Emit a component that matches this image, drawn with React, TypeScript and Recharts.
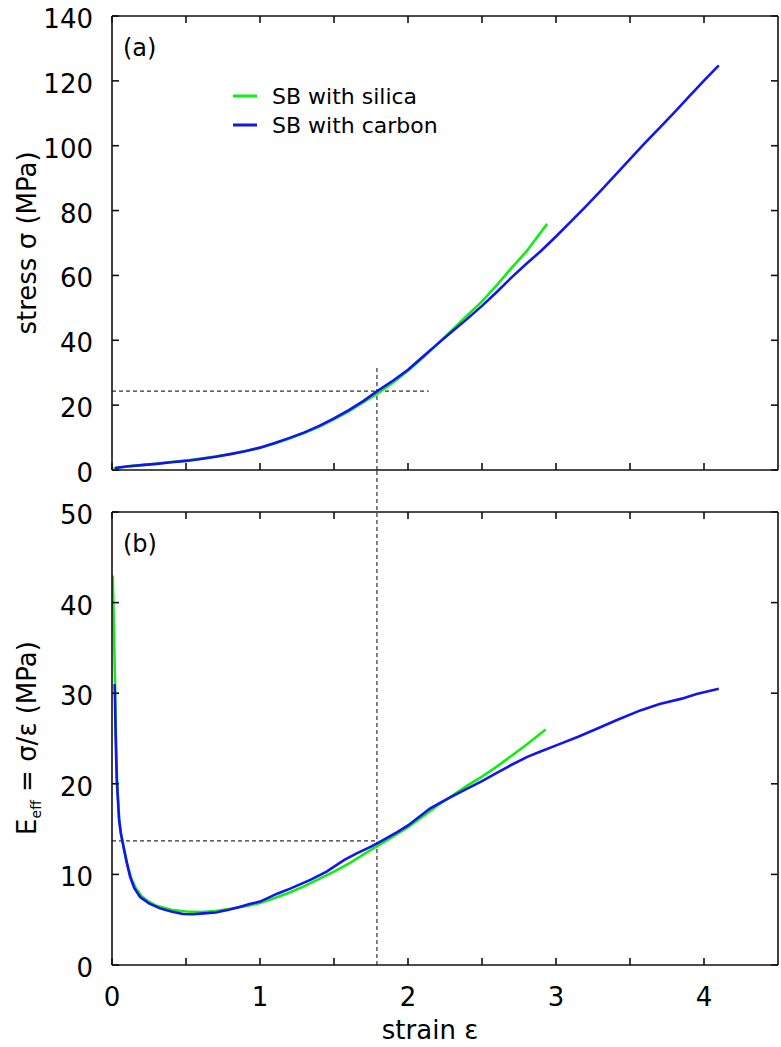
import React from 'react';
import { LineChart, Line, XAxis, YAxis, ReferenceLine, Legend } from 'recharts';

const FONT = '"DejaVu Sans", Verdana, sans-serif';
const GREEN = '#11ee11';
const BLUE = '#1414ee';

// ---- panel (a): stress vs strain ----
const strainSilicaA = [0.01, 0.1, 0.2, 0.3, 0.4, 0.5, 0.6, 0.7, 0.8, 0.9, 1.0, 1.1, 1.2, 1.3, 1.4, 1.5, 1.6, 1.7, 1.8, 1.9, 2.0, 2.1, 2.2, 2.3, 2.4, 2.5, 2.6, 2.7, 2.8, 2.94];
const stressSilica = [0.45, 1.15, 1.5, 1.95, 2.45, 2.95, 3.5, 4.15, 4.95, 5.85, 6.85, 8.2, 9.7, 11.4, 13.3, 15.6, 18.1, 20.9, 23.8, 27.0, 30.6, 34.6, 38.9, 43.3, 47.7, 52.0, 57.0, 62.3, 67.4, 75.9];

const strainCarbonA = [0.02, 0.1, 0.2, 0.3, 0.4, 0.5, 0.6, 0.7, 0.8, 0.9, 1.0, 1.1, 1.2, 1.3, 1.4, 1.5, 1.6, 1.7, 1.8, 1.9, 2.0, 2.1, 2.2, 2.3, 2.4, 2.5, 2.6, 2.7, 2.8, 2.9, 3.0, 3.1, 3.2, 3.3, 3.4, 3.5, 3.6, 3.7, 3.8, 3.9, 4.0, 4.1];
const stressCarbon = [0.6, 1.1, 1.5, 1.9, 2.4, 2.8, 3.4, 4.1, 4.9, 5.8, 6.9, 8.3, 9.9, 11.6, 13.6, 15.9, 18.5, 21.3, 24.6, 27.6, 30.9, 34.9, 38.9, 42.8, 46.6, 50.6, 54.9, 59.4, 63.6, 67.6, 72.0, 76.6, 81.2, 86.0, 90.9, 95.9, 100.8, 105.5, 110.3, 115.2, 120.1, 124.8];

// ---- panel (b): effective modulus vs strain ----
const strainSilicaB = [0.005, 0.013, 0.02, 0.027, 0.034, 0.048, 0.06, 0.08, 0.1, 0.13, 0.16, 0.2, 0.25, 0.3, 0.4, 0.5, 0.6, 0.7, 0.8, 0.9, 1.0, 1.1, 1.2, 1.3, 1.4, 1.5, 1.6, 1.7, 1.8, 1.9, 2.0, 2.1, 2.2, 2.3, 2.4, 2.5, 2.6, 2.7, 2.8, 2.93];
const effSilica = [43, 37, 31.5, 25, 20.5, 16.2, 14.6, 12.9, 11.3, 9.6, 8.5, 7.6, 6.95, 6.55, 6.1, 5.9, 5.85, 5.95, 6.2, 6.5, 6.85, 7.4, 8.0, 8.7, 9.5, 10.3, 11.2, 12.2, 13.2, 14.2, 15.2, 16.4, 17.6, 18.7, 19.8, 20.8, 21.9, 23.1, 24.3, 26.0];

const strainCarbonB = [0.018, 0.025, 0.032, 0.048, 0.06, 0.077, 0.1, 0.122, 0.15, 0.19, 0.25, 0.325, 0.4, 0.48, 0.55, 0.62, 0.7, 0.78, 0.85, 0.93, 1.0, 1.12, 1.2, 1.34, 1.45, 1.57, 1.65, 1.75, 1.81, 1.93, 2.0, 2.15, 2.25, 2.38, 2.5, 2.6, 2.7, 2.81, 2.9, 3.01, 3.15, 3.28, 3.42, 3.57, 3.7, 3.85, 3.95, 4.1];
const effCarbon = [31, 25, 20.5, 16, 14.5, 13.1, 11.3, 9.75, 8.5, 7.5, 6.8, 6.25, 5.9, 5.63, 5.6, 5.7, 5.8, 6.07, 6.35, 6.73, 7.0, 7.9, 8.4, 9.4, 10.3, 11.6, 12.3, 13.06, 13.6, 14.7, 15.4, 17.3, 18.2, 19.3, 20.3, 21.2, 22.1, 23.0, 23.6, 24.3, 25.2, 26.1, 27.1, 28.1, 28.8, 29.4, 29.9, 30.5];

// ---- axes / annotations ----
const strainDomain = [0, 4.5];
const strainTicks = [0, 0.5, 1, 1.5, 2, 2.5, 3, 3.5, 4];
const stressDomain = [0, 140];
const stressTicks = [0, 20, 40, 60, 80, 100, 120, 140];
const effDomain = [0, 50];
const effTicks = [0, 10, 20, 30, 40, 50];

const crossStrain = 1.79;
const crossStress = 24.3;
const crossStressLineEnd = 2.14;
const crossStressVertTop = 32.4;
const crossEff = 13.7;
const crossEffVertTop = 54.64; // reaches up through the gap to panel (a)

const seriesNames = ['SB with silica', 'SB with carbon'];

const rows = (xs: number[], ys: number[]) => xs.map((x, i) => ({ x, y: ys[i] }));

const silicaA = rows(strainSilicaA, stressSilica);
const carbonA = rows(strainCarbonA, stressCarbon);
const silicaB = rows(strainSilicaB, effSilica);
const carbonB = rows(strainCarbonB, effCarbon);

const AXIS = { stroke: '#111', strokeWidth: 1.6 };
const TICKSIZE = -7;

const NoTick = () => <g />;

const LeftTick = (props: any) => {
  const { x, y, payload } = props;
  return (
    <text x={x - 26} y={y + 12} textAnchor="end" fontSize={26} fontFamily={FONT} fill="#000">
      {payload.value}
    </text>
  );
};

const BottomTick = (props: any) => {
  const { x, y, payload } = props;
  if (!Number.isInteger(payload.value)) return <g />;
  return (
    <text x={x} y={y + 48} textAnchor="middle" fontSize={26} fontFamily={FONT} fill="#000">
      {payload.value}
    </text>
  );
};

const LegendBox = (props: any) => {
  const payload = [...(props.payload || [])].sort(
    (a: any, b: any) => seriesNames.indexOf(a.value) - seriesNames.indexOf(b.value)
  );
  return (
    <svg width={260} height={64} style={{ overflow: 'visible' }}>
      {payload.map((p: any, i: number) => {
        const cy = 16 + i * 29;
        return (
          <g key={i}>
            <line x1={8} x2={32} y1={cy} y2={cy} stroke={p.color} strokeWidth={3} />
            <text x={47} y={cy + 8} fontSize={22} fontFamily={FONT} fill="#000">
              {p.value}
            </text>
          </g>
        );
      })}
    </svg>
  );
};

const dash = { stroke: '#333', strokeWidth: 1.2, strokeDasharray: '4 3' };

export default function App() {
  return (
    <div style={{ position: 'absolute', left: 0, top: 0, width: 781, height: 1047, background: '#fff' }}>
      <div style={{ position: 'absolute', left: 0, top: 0 }}>
        <LineChart width={781} height={500} margin={{ top: 15, right: 2, left: 0, bottom: 0 }}>
          <XAxis type="number" dataKey="x" domain={strainDomain} ticks={strainTicks} orientation="bottom" height={30}
            tickSize={TICKSIZE} tickMargin={0} tick={NoTick} axisLine={AXIS} tickLine={AXIS} allowDataOverflow />
          <XAxis xAxisId="top" type="number" dataKey="x" domain={strainDomain} ticks={strainTicks} orientation="top" height={1}
            tickSize={TICKSIZE} tickMargin={0} tick={NoTick} axisLine={AXIS} tickLine={AXIS} allowDataOverflow />
          <YAxis type="number" domain={stressDomain} ticks={stressTicks} orientation="left" width={112}
            tickSize={TICKSIZE} tickMargin={0} tick={LeftTick} axisLine={AXIS} tickLine={AXIS} allowDataOverflow />
          <YAxis yAxisId="right" type="number" domain={stressDomain} ticks={stressTicks} orientation="right" width={1}
            tickSize={TICKSIZE} tickMargin={0} tick={NoTick} axisLine={AXIS} tickLine={AXIS} allowDataOverflow />
          <ReferenceLine segment={[{ x: 0, y: crossStress }, { x: crossStressLineEnd, y: crossStress }]} {...dash} />
          <ReferenceLine segment={[{ x: crossStrain, y: 0 }, { x: crossStrain, y: crossStressVertTop }]} {...dash} />
          <Line data={silicaA} dataKey="y" name={seriesNames[0]} type="linear" stroke={GREEN} strokeWidth={2.6} dot={false} isAnimationActive={false} />
          <Line data={carbonA} dataKey="y" name={seriesNames[1]} type="linear" stroke={BLUE} strokeWidth={2.6} dot={false} isAnimationActive={false} />
          <Legend layout="vertical" align="center" verticalAlign="middle" content={<LegendBox />}
            wrapperStyle={{ position: 'absolute', left: 225, top: 80, width: 260, height: 64 }} />
        </LineChart>
      </div>
      <div style={{ position: 'absolute', left: 0, top: 470 }}>
        <LineChart width={781} height={577} margin={{ top: 41, right: 2, left: 0, bottom: 0 }}>
          <XAxis type="number" dataKey="x" domain={strainDomain} ticks={strainTicks} orientation="bottom" height={82}
            tickSize={TICKSIZE} tickMargin={0} tick={BottomTick} axisLine={AXIS} tickLine={AXIS} allowDataOverflow />
          <XAxis xAxisId="top" type="number" dataKey="x" domain={strainDomain} ticks={strainTicks} orientation="top" height={1}
            tickSize={TICKSIZE} tickMargin={0} tick={NoTick} axisLine={AXIS} tickLine={AXIS} allowDataOverflow />
          <YAxis type="number" domain={effDomain} ticks={effTicks} orientation="left" width={112}
            tickSize={TICKSIZE} tickMargin={0} tick={LeftTick} axisLine={AXIS} tickLine={AXIS} allowDataOverflow />
          <YAxis yAxisId="right" type="number" domain={effDomain} ticks={effTicks} orientation="right" width={1}
            tickSize={TICKSIZE} tickMargin={0} tick={NoTick} axisLine={AXIS} tickLine={AXIS} allowDataOverflow />
          <ReferenceLine segment={[{ x: 0, y: crossEff }, { x: crossStrain, y: crossEff }]} {...dash} />
          <ReferenceLine segment={[{ x: crossStrain, y: 0 }, { x: crossStrain, y: crossEffVertTop }]} ifOverflow="visible" {...dash} />
          <Line data={silicaB} dataKey="y" name={seriesNames[0]} type="linear" stroke={GREEN} strokeWidth={2.6} dot={false} isAnimationActive={false} />
          <Line data={carbonB} dataKey="y" name={seriesNames[1]} type="linear" stroke={BLUE} strokeWidth={2.6} dot={false} isAnimationActive={false} />
        </LineChart>
      </div>
      <svg width={781} height={1047} style={{ position: 'absolute', left: 0, top: 0, pointerEvents: 'none' }}>
        <text x={123} y={56} fontSize={24} fontFamily={FONT} fill="#000">(a)</text>
        <text x={123} y={552} fontSize={24} fontFamily={FONT} fill="#000">(b)</text>
        <text x={36} y={243} transform="rotate(-90 36 243)" textAnchor="middle" fontSize={26} fontFamily={FONT} fill="#000">
          {'stress σ  (MPa)'}
        </text>
        <text x={36} y={738} transform="rotate(-90 36 738)" textAnchor="middle" fontSize={26} fontFamily={FONT} fill="#000">
          <tspan>E</tspan>
          <tspan fontSize={14} dy={5}>eff</tspan>
          <tspan dy={-5}>{' = σ/ε  (MPa)'}</tspan>
        </text>
        <text x={430} y={1039} textAnchor="middle" fontSize={26} fontFamily={FONT} fill="#000">
          {'strain  ε'}
        </text>
      </svg>
    </div>
  );
}
